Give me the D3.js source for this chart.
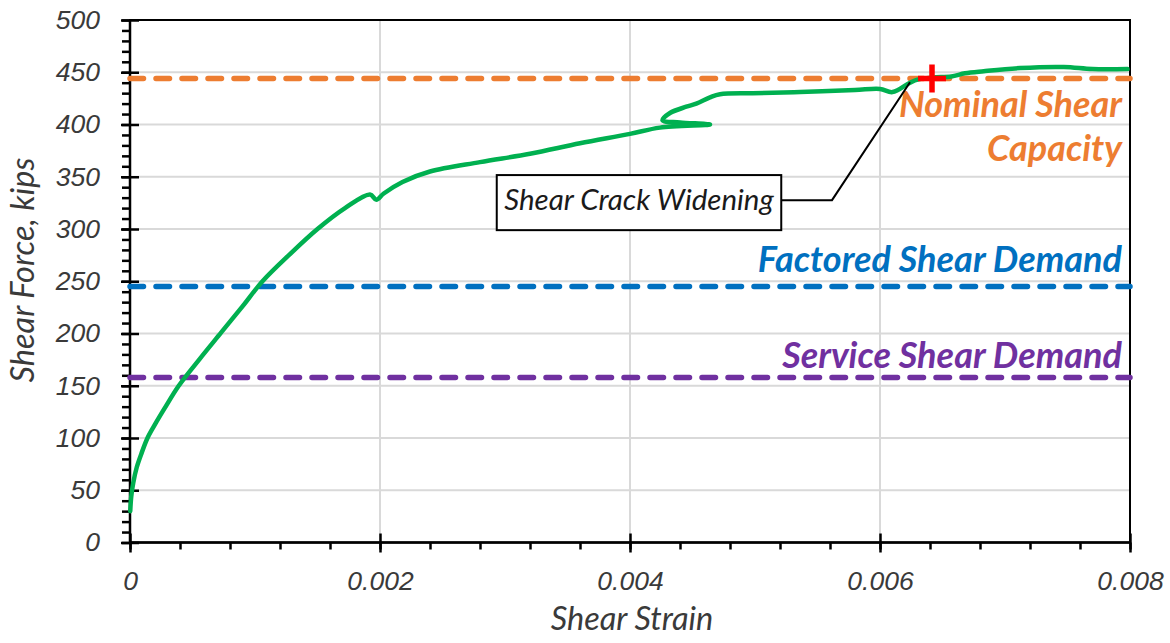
<!DOCTYPE html>
<html>
<head>
<meta charset="utf-8">
<script src="https://cdn.jsdelivr.net/npm/d3@7"></script>
<style>
body { margin: 0; background: #fff; }
svg { display: block; font-family: Lato, "Open Sans", sans-serif; }
.axis text { font-style: italic; font-size: 26.5px; fill: #3a3a3a; }
.axis line { stroke: #000; stroke-width: 2.5; }
.axis path { display: none; }
.title { font-style: italic; font-size: 32.5px; fill: #3a3a3a; }
.limit-label { font-style: italic; font-weight: bold; font-size: 36px; }
.note { font-style: italic; font-size: 29.5px; fill: #1a1a1a; }
</style>
</head>
<body>
<svg width="1170" height="643"></svg>
<script>
// test curve
var strain = [0.000002, 0.00001, 0.000026, 0.000054, 0.000094, 0.00014, 0.0002, 0.00028,
    0.00039, 0.00056, 0.00073, 0.0009, 0.00106, 0.00128, 0.0015, 0.00172,
    0.00192, 0.00197, 0.00203, 0.00218, 0.0024, 0.0028, 0.0032, 0.0036, 0.004,
    0.00424, 0.00464, 0.0044, 0.00426, 0.00432, 0.00445, 0.00453, 0.00464, 0.00472, 0.00498,
    0.00536, 0.0058, 0.006, 0.0061, 0.00624, 0.0063, 0.00642, 0.00657, 0.00668, 0.00683,
    0.00712, 0.00747, 0.0077, 0.00798];
var force = [30, 44, 57, 72, 86, 100, 113, 129,
    150, 176, 201, 226, 250, 276, 300, 320,
    333, 328, 334, 345, 355, 364, 372, 382, 391,
    397, 400, 402, 404, 411, 417, 420, 426, 429, 430,
    431, 433, 434, 431, 440, 443, 445, 446, 449, 451,
    454, 455, 453, 453];

var limitNames = [["Nominal Shear", "Capacity"], ["Factored Shear Demand"], ["Service Shear Demand"]];
var limitValues = [444, 245, 158];

var peakStrain = 0.006416;
var peakForce = 444;

var noteText = "Shear Crack Widening";

var xTicks = [0, 0.002, 0.004, 0.006, 0.008];
var yTicks = [0, 50, 100, 150, 200, 250, 300, 350, 400, 450, 500];

// **** scales ****
var x = d3.scaleLinear().domain([0, 0.008]).range([130, 1130]);
var y = d3.scaleLinear().domain([0, 500]).range([542.5, 20]);

var limitColors = ["#ED7D31", "#0070C0", "#7030A0"];

var svg = d3.select('svg');

// grid
svg.append('g').selectAll('line')
    .data(yTicks.slice(1, -1))
    .enter().append('line')
    .attr('x1', x(0)).attr('x2', x(0.008))
    .attr('y1', d => y(d)).attr('y2', d => y(d))
    .attr('stroke', '#d9d9d9').attr('stroke-width', 2);

svg.append('g').selectAll('line')
    .data(xTicks.slice(1, -1))
    .enter().append('line')
    .attr('y1', y(0)).attr('y2', y(500))
    .attr('x1', d => x(d)).attr('x2', d => x(d))
    .attr('stroke', '#d9d9d9').attr('stroke-width', 2);

// frame
svg.append('rect')
    .attr('x', x(0)).attr('y', y(500))
    .attr('width', x(0.008) - x(0)).attr('height', y(0) - y(500))
    .attr('fill', 'none').attr('stroke', '#000').attr('stroke-width', 2);

// minor ticks
svg.append('g').attr('class', 'axis')
    .attr('transform', 'translate(' + x(0) + ',0)')
    .call(d3.axisLeft(y).tickValues(d3.range(0, 501, 10)).tickSize(8).tickFormat(''));
svg.append('g').attr('class', 'axis')
    .attr('transform', 'translate(0,' + y(0) + ')')
    .call(d3.axisBottom(x).tickValues(d3.range(0, 0.00801, 0.0004)).tickSize(7).tickFormat(''));

// major ticks, crossing the axis
var yAxis = svg.append('g').attr('class', 'axis')
    .attr('transform', 'translate(' + x(0) + ',0)')
    .call(d3.axisLeft(y).tickValues(yTicks).tickSize(9).tickPadding(21).tickFormat(d3.format('d')));
yAxis.selectAll('.tick line').attr('x1', 9);

var xAxis = svg.append('g').attr('class', 'axis')
    .attr('transform', 'translate(0,' + y(0) + ')')
    .call(d3.axisBottom(x).tickValues(xTicks).tickSize(10).tickPadding(19)
        .tickFormat(d => d === 0 ? '0' : d.toFixed(3)));
xAxis.selectAll('.tick line').attr('y1', -9);

// axis lines
svg.append('line')
    .attr('x1', x(0)).attr('x2', x(0)).attr('y1', y(0)).attr('y2', y(500))
    .attr('stroke', '#000').attr('stroke-width', 2.5);
svg.append('line')
    .attr('x1', x(0)).attr('x2', x(0.008)).attr('y1', y(0)).attr('y2', y(0))
    .attr('stroke', '#000').attr('stroke-width', 2.5);

// axis titles
svg.append('text')
    .attr('class', 'title')
    .attr('text-anchor', 'middle')
    .attr('transform', 'translate(632,630)')
    .text('Shear Strain');

svg.append('text')
    .attr('class', 'title')
    .attr('text-anchor', 'middle')
    .attr('transform', 'translate(34,270) rotate(-90)')
    .text('Shear Force, kips');

// limit lines
svg.append('g').selectAll('line')
    .data(limitValues)
    .enter().append('line')
    .attr('x1', x(0)).attr('x2', x(0.008))
    .attr('y1', d => y(d)).attr('y2', d => y(d))
    .attr('stroke', (d, i) => limitColors[i])
    .attr('stroke-width', 5.5)
    .attr('stroke-linecap', 'round')
    .attr('stroke-dasharray', '13.5,12.5');

// test curve
var line = d3.line()
    .x(d => x(d[0]))
    .y(d => y(d[1]))
    .curve(d3.curveCatmullRom.alpha(0.5));

svg.append('path')
    .datum(d3.zip(strain, force))
    .attr('d', line)
    .attr('fill', 'none')
    .attr('stroke', '#00B050')
    .attr('stroke-width', 4.5)
    .attr('stroke-linejoin', 'round')
    .attr('stroke-linecap', 'round');

// limit labels (right aligned)
var labelBase = [407, 259, 167];
limitNames.forEach(function(lines, i) {
    var t = svg.append('text')
        .attr('class', 'limit-label')
        .attr('text-anchor', 'end')
        .attr('fill', limitColors[i]);
    lines.forEach(function(s, j) {
        t.append('tspan')
            .attr('x', x(0.007936))
            .attr('y', y(labelBase[i]) + j * 44)
            .text(s);
    });
});

// annotation
var noteBox = {x0: 0.002934, x1: 0.00521, y0: 351.6, y1: 298.9};
svg.append('polyline')
    .attr('points', [[x(noteBox.x1), y(327.6)], [x(0.005616), y(327.6)], [x(0.00624), y(440.5)]].join(' '))
    .attr('fill', 'none').attr('stroke', '#000').attr('stroke-width', 2);

svg.append('rect')
    .attr('x', x(noteBox.x0)).attr('y', y(noteBox.y0))
    .attr('width', x(noteBox.x1) - x(noteBox.x0))
    .attr('height', y(noteBox.y1) - y(noteBox.y0))
    .attr('fill', '#fff').attr('stroke', '#000').attr('stroke-width', 2);

svg.append('text')
    .attr('class', 'note')
    .attr('text-anchor', 'middle')
    .attr('x', x((noteBox.x0 + noteBox.x1) / 2))
    .attr('y', y(327.6) + 10)
    .text(noteText);

// peak marker
var px = x(peakStrain), py = y(peakForce);
svg.append('path')
    .attr('d', 'M' + (px - 14) + ',' + py + 'H' + (px + 14) + 'M' + px + ',' + (py - 14) + 'V' + (py + 14))
    .attr('stroke', '#FF0000').attr('stroke-width', 5.5);
</script>
</body>
</html>
